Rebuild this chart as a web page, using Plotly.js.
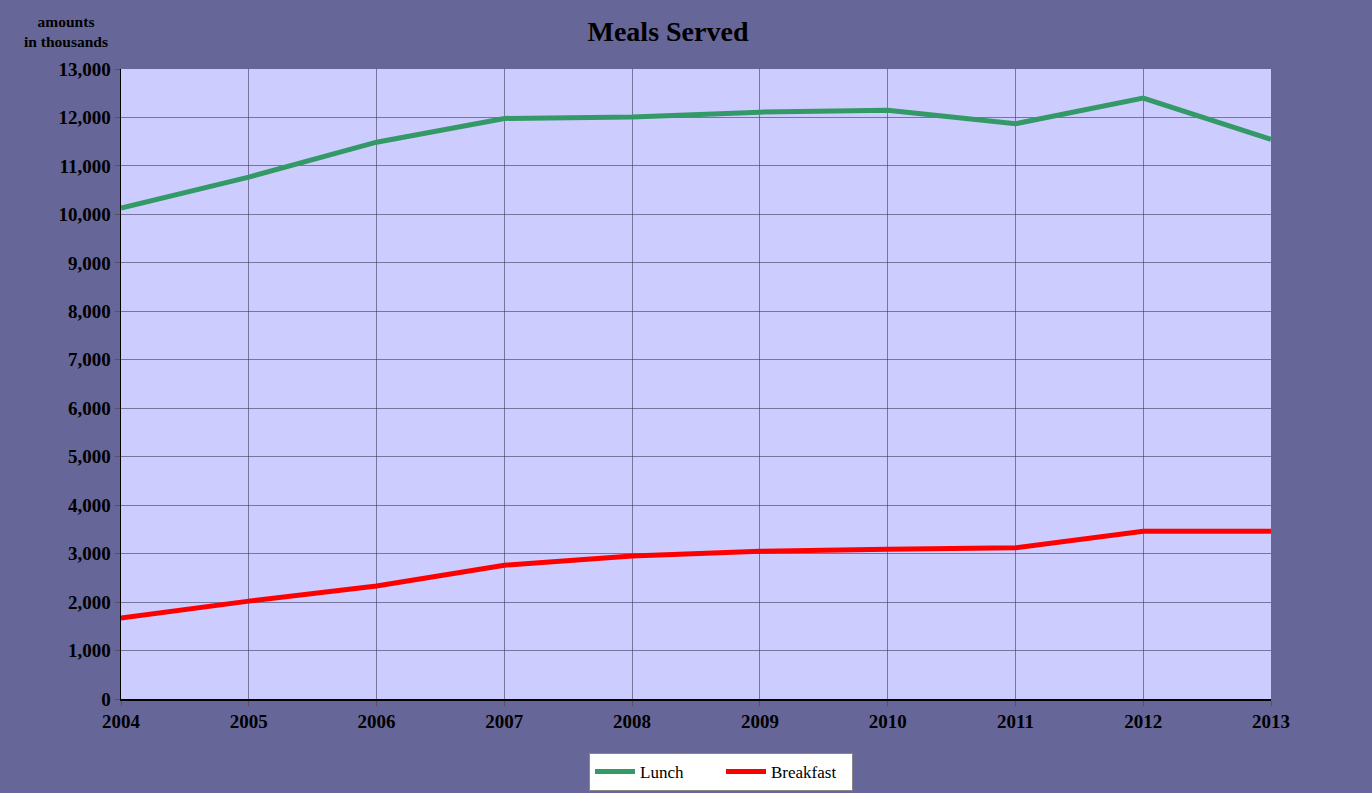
<!DOCTYPE html>
<html>
<head>
<meta charset="utf-8">
<script src="https://cdn.plot.ly/plotly-3.0.1.min.js"></script>
<style>html,body{margin:0;padding:0;background:#666699;}#chart{width:1372px;height:793px;}</style>
</head>
<body>
<div id="chart"></div>
<script>
const years = ['2004','2005','2006','2007','2008','2009','2010','2011','2012','2013'];
const lunch = [10130, 10770, 11490, 11980, 12010, 12110, 12150, 11870, 12400, 11550];
const breakfast = [1670, 2020, 2330, 2760, 2950, 3050, 3090, 3120, 3460, 3460];
const yTicks = [0,1000,2000,3000,4000,5000,6000,7000,8000,9000,10000,11000,12000,13000];

const font = {family: '"Liberation Serif", "Times New Roman", serif', color: '#000'};
const traces = [
  {x: years, y: lunch, name: 'Lunch', type: 'scatter', mode: 'lines', line: {color: '#339966', width: 5}},
  {x: years, y: breakfast, name: 'Breakfast', type: 'scatter', mode: 'lines', line: {color: '#FF0000', width: 5}}
];
const layout = {
  width: 1372, height: 793,
  paper_bgcolor: '#666699', plot_bgcolor: '#CCCCFF',
  margin: {l: 121, r: 101, t: 69, b: 94},
  font: font,
  title: {text: '<b>Meals Served</b>', x: 668/1372, xanchor: 'center', y: 1 - 31/793, yanchor: 'middle', font: {family: font.family, size: 28, color: '#000'}},
  xaxis: {
    type: 'linear', range: [2004, 2013], tickvals: years.map(Number), ticktext: years.map(y => '<b>' + y + '</b>'),
    showgrid: true, gridcolor: 'rgba(60,60,90,0.6)', gridwidth: 1,
    showline: true, linecolor: '#000', linewidth: 1.5, ticks: 'outside', ticklen: 5, tickcolor: '#555',
    tickfont: {family: font.family, size: 19, color: '#000'}, zeroline: false, fixedrange: true
  },
  yaxis: {
    range: [0, 13000], tickvals: yTicks, ticktext: yTicks.map(v => '<b>' + v.toLocaleString('en-US') + '</b>'),
    showgrid: true, gridcolor: 'rgba(60,60,90,0.6)', gridwidth: 1,
    showline: true, linecolor: '#000', linewidth: 1.5, ticks: 'outside', ticklen: 5, tickcolor: '#555',
    tickfont: {family: font.family, size: 19, color: '#000'}, zeroline: false, fixedrange: true
  },
  showlegend: true,
  legend: {orientation: 'h', xref: 'container', yref: 'container', x: 721/1372, xanchor: 'center', y: 1 - 753/793, yanchor: 'top',
    bgcolor: '#FFFFFF', bordercolor: '#888888', borderwidth: 1, entrywidth: 76, entrywidthmode: 'pixels',
    font: {family: font.family, size: 17, color: '#000'}, itemwidth: 40, tracegroupgap: 0},
  annotations: [{
    text: '<b>amounts<br>in thousands</b>', xref: 'paper', yref: 'paper',
    x: (66-121)/1150, y: (699-32)/630, xanchor: 'center', yanchor: 'middle', showarrow: false,
    font: {family: font.family, size: 15.5, color: '#000'}
  }]
};
Plotly.newPlot('chart', traces, layout, {displayModeBar: false, staticPlot: true});
</script>
</body>
</html>
